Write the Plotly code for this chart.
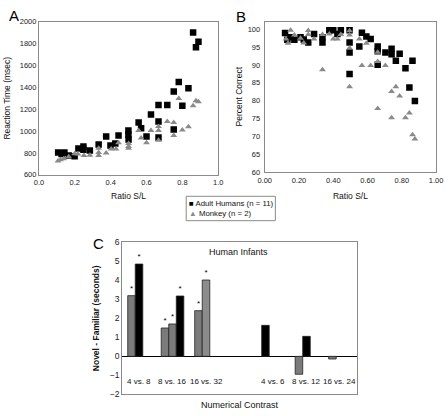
import plotly.graph_objects as go

# ---------------- Panel A data: reaction time ----------------
human_ratio_a = [0.107, 0.126, 0.142, 0.166, 0.199, 0.22, 0.248, 0.248, 0.284, 0.333,
                 0.375, 0.399, 0.426, 0.444, 0.499, 0.499, 0.5, 0.556, 0.57, 0.6,
                 0.625, 0.667, 0.667, 0.667, 0.716, 0.752, 0.78, 0.752, 0.80, 0.834,
                 0.86, 0.876, 0.89]
human_rt = [805, 790, 805, 776, 770, 840, 858, 828, 822, 878,
            951, 867, 887, 960, 1004, 966, 922, 1077, 1025, 951,
            1150, 1238, 1086, 940, 1238, 1361, 1449, 1013, 1232, 1390,
            1900, 1766, 1815]
monkey_ratio_a = [0.106, 0.12, 0.138, 0.166, 0.199, 0.217, 0.251, 0.284, 0.333, 0.333,
                  0.333, 0.375, 0.403, 0.43, 0.444, 0.5, 0.5, 0.5, 0.556, 0.57,
                  0.6, 0.625, 0.667, 0.667, 0.667, 0.716, 0.752, 0.752, 0.78, 0.80,
                  0.834, 0.86, 0.876, 0.89]
monkey_rt = [726, 738, 746, 764, 793, 790, 776, 779, 843, 805,
             776, 799, 837, 837, 893, 887, 858, 843, 1004, 937,
             893, 1004, 1042, 1004, 916, 1086, 1077, 960, 1297, 1010,
             1040, 1230, 1277, 1268]

# ---------------- Panel B data: percent correct ----------------
human_ratio_b = [0.119, 0.132, 0.151, 0.173, 0.209, 0.228, 0.254, 0.288, 0.337, 0.337,
                 0.377, 0.40, 0.424, 0.444, 0.495, 0.495, 0.495, 0.495, 0.552, 0.567,
                 0.593, 0.618, 0.659, 0.659, 0.659, 0.704, 0.74, 0.74, 0.765, 0.787,
                 0.821, 0.844, 0.862, 0.876]
human_pc = [99.0, 97.1, 97.8, 97.1, 97.8, 97.2, 96.3, 98.7, 97.8, 96.3,
            99.8, 99.8, 98.7, 99.8, 99.8, 96.3, 93.5, 87.5, 95.2, 99.1,
            98.0, 97.3, 95.2, 93.9, 90.1, 93.5, 94.6, 93.0, 91.2, 93.2,
            89.1, 83.7, 91.2, 79.9]
monkey_ratio_b = [0.124, 0.136, 0.151, 0.173, 0.209, 0.228, 0.254, 0.254, 0.288, 0.337,
                  0.337, 0.377, 0.40, 0.424, 0.444, 0.495, 0.495, 0.495, 0.495, 0.552,
                  0.567, 0.593, 0.618, 0.659, 0.659, 0.659, 0.704, 0.74, 0.74, 0.765,
                  0.787, 0.821, 0.844, 0.862, 0.876]
monkey_pc = [97.3, 96.1, 99.8, 98.4, 97.5, 96.2, 99.7, 98.6, 97.3, 98.6,
             88.7, 98.7, 97.3, 97.3, 98.6, 99.6, 98.4, 94.8, 83.9, 97.3,
             89.9, 96.1, 89.9, 93.6, 91.0, 77.8, 89.9, 75.2, 82.6, 83.9,
             81.3, 75.2, 76.5, 70.4, 69.2]

# ---------------- Panel C data: human infants ----------------
contrast_labels = ["4 vs. 8", "8 vs. 16", "16 vs. 32", "", "4 vs. 6", "8 vs. 12", "16 vs. 24"]
slot1_values = [3.19, 1.49, 2.40, None, 1.63, -0.94, -0.14]
slot2_values = [4.85, 1.70, 4.01, None, None, 1.05, None]
slot3_values = [None, 3.17, None, None, None, None, None]
slot1_sig = [True, True, True, False, False, False, False]
slot2_sig = [True, True, True, False, False, False, False]
slot3_sig = [False, True, False, False, False, False, False]

GRAY = "#7b7b7b"
LGRAY = "#8c8c8c"
BLACK = "#000000"
TRI = "#8a8a8a"
slot1_colors = [GRAY, GRAY, GRAY, GRAY, BLACK, GRAY, GRAY]
slot2_colors = [BLACK, GRAY, LGRAY, GRAY, BLACK, BLACK, GRAY]
slot3_colors = [BLACK] * 7

FONT = "Liberation Sans, Arial, sans-serif"

fig = go.Figure()

# Panel A
fig.add_trace(go.Scatter(x=human_ratio_a, y=human_rt, mode="markers", xaxis="x", yaxis="y",
                         marker=dict(symbol="square", size=6.5, color="black"), showlegend=False))
fig.add_trace(go.Scatter(x=monkey_ratio_a, y=monkey_rt, mode="markers", xaxis="x", yaxis="y",
                         marker=dict(symbol="triangle-up", size=6, color=TRI), showlegend=False))
# Panel B
fig.add_trace(go.Scatter(x=human_ratio_b, y=human_pc, mode="markers", xaxis="x2", yaxis="y2",
                         marker=dict(symbol="square", size=6.5, color="black"), showlegend=False))
fig.add_trace(go.Scatter(x=monkey_ratio_b, y=monkey_pc, mode="markers", xaxis="x2", yaxis="y2",
                         marker=dict(symbol="triangle-up", size=6, color=TRI), showlegend=False))

# Panel C
positions = list(range(len(contrast_labels)))
for vals, cols, sig in [(slot1_values, slot1_colors, slot1_sig),
                        (slot2_values, slot2_colors, slot2_sig),
                        (slot3_values, slot3_colors, slot3_sig)]:
    fig.add_trace(go.Bar(x=positions, y=vals, xaxis="x3", yaxis="y3",
                         marker=dict(color=cols, line=dict(color="#222222", width=0.8)),
                         text=["*" if s else "" for s in sig], textposition="outside",
                         textfont=dict(size=8, color="black", family=FONT),
                         cliponaxis=False, showlegend=False))

ax_common = dict(showgrid=False, zeroline=False, showline=True, linecolor="#8a8a8a",
                 linewidth=1, mirror=True, ticks="", tickfont=dict(size=7.5, color="#222", family=FONT))

fig.update_layout(
    width=448, height=416,
    margin=dict(l=0, r=0, t=0, b=0),
    paper_bgcolor="white", plot_bgcolor="white",
    font=dict(family=FONT, color="#111"),
    barmode="group", bargap=0.325, bargroupgap=0,
    xaxis=dict(domain=[33/448, 218/448], anchor="y", range=[0, 1.0], dtick=0.2, tickformat=".1f",
               title=dict(text="Ratio S/L", font=dict(size=8.5), standoff=7), **ax_common),
    yaxis=dict(domain=[1-174/416, 1-17/416], anchor="x", range=[600, 2000], dtick=200,
               title=dict(text="Reaction Time (msec)", font=dict(size=8.5), standoff=7), **ax_common),
    xaxis2=dict(domain=[266/448, 443/448], anchor="y2", range=[0, 1.0], dtick=0.2, tickformat=".2f",
                ticklabelstandoff=1,
                title=dict(text="Ratio S/L", font=dict(size=8.5), standoff=9), **ax_common),
    yaxis2=dict(domain=[1-171/416, 1-17/416], anchor="x2", range=[60, 102.2], tick0=60, dtick=5,
                ticklabelstandoff=2,
                title=dict(text="Percent Correct", font=dict(size=8.5), standoff=3), **ax_common),
    xaxis3=dict(domain=[119/448, 361/448], anchor="y3", range=[-0.5, 6.5], showticklabels=False,
                showgrid=False, zeroline=False, showline=True, linecolor="#8a8a8a", mirror=True,
                title=dict(text="Numerical Contrast", font=dict(size=9), standoff=7)),
    yaxis3=dict(domain=[1-399/416, 1-243/416], anchor="x3", range=[-2, 6], dtick=1,
                showgrid=False, zeroline=True, zerolinecolor="black", zerolinewidth=1,
                showline=True, linecolor="#8a8a8a", mirror=True, ticks="",
                tickfont=dict(size=8.5, color="#222"),
                title=dict(text="<b>Novel - Familiar (seconds)</b>", font=dict(size=8.5), standoff=8)),
)

annotations = []
for i, lab in enumerate(contrast_labels):
    if lab:
        annotations.append(dict(x=i, y=-1.3, xref="x3", yref="y3", text=lab, showarrow=False,
                                font=dict(size=8, color="#111")))
annotations.append(dict(x=2.97, y=5.5, xref="x3", yref="y3", text="Human Infants", showarrow=False,
                        font=dict(size=9, color="#111")))
# panel letters
annotations.append(dict(x=0, y=1.0, xref="paper", yref="paper", text="A", showarrow=False,
                        xanchor="left", yanchor="top", font=dict(size=15, color="black")))
annotations.append(dict(x=234/448, y=1 - 1/416, xref="paper", yref="paper", text="B", showarrow=False,
                        xanchor="left", yanchor="top", font=dict(size=15, color="black")))
annotations.append(dict(x=87/448, y=1 - 234/416, xref="paper", yref="paper", text="C", showarrow=False,
                        xanchor="left", yanchor="top", font=dict(size=15, color="black")))
# legend (manual)
annotations.append(dict(x=186/448, y=1 - 203/416, xref="paper", yref="paper",
                        text="<span style='color:black'>■</span> Adult Humans (n = 11)",
                        showarrow=False, xanchor="left", yanchor="middle", font=dict(size=7.8, color="#111")))
annotations.append(dict(x=186/448, y=1 - 214/416, xref="paper", yref="paper",
                        text="<span style='color:#8a8a8a'>▲</span> Monkey (n = 2)",
                        showarrow=False, xanchor="left", yanchor="middle", font=dict(size=7.8, color="#111")))
fig.update_layout(annotations=annotations)
fig.add_shape(type="rect", xref="paper", yref="paper", x0=185/448, x1=277/448,
              y0=1 - 221/416, y1=1 - 196/416, line=dict(color="#8a8a8a", width=1))

fig.write_html("out.html", config={"displayModeBar": False},
               post_script="document.body.style.margin='0';document.body.style.overflow='hidden';")
